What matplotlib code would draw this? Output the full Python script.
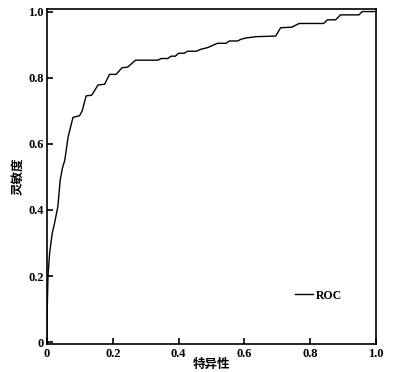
import matplotlib.pyplot as plt

# ROC curve points (1 - specificity, sensitivity)
fpr = [0.0, 0.0, 0.003, 0.008, 0.016, 0.023, 0.033, 0.040, 0.047, 0.054,
       0.064, 0.079, 0.099, 0.107, 0.119, 0.136, 0.155, 0.175, 0.190, 0.210,
       0.228, 0.245, 0.269, 0.337, 0.347, 0.367, 0.377, 0.390, 0.400, 0.417,
       0.427, 0.453, 0.468, 0.488, 0.518, 0.544, 0.554, 0.579, 0.589, 0.604,
       0.635, 0.695, 0.710, 0.745, 0.766, 0.841, 0.852, 0.877, 0.892, 0.948,
       0.958, 1.0]
tpr = [0.0, 0.07, 0.20, 0.27, 0.33, 0.36, 0.41, 0.49, 0.527, 0.55,
       0.62, 0.68, 0.685, 0.70, 0.745, 0.747, 0.778, 0.78, 0.81, 0.81,
       0.83, 0.832, 0.853, 0.853, 0.858, 0.858, 0.865, 0.865, 0.874, 0.874,
       0.88, 0.88, 0.886, 0.891, 0.904, 0.904, 0.911, 0.911, 0.916, 0.92,
       0.924, 0.926, 0.951, 0.953, 0.964, 0.964, 0.975, 0.975, 0.99, 0.99,
       1.0, 1.0]

ticks = [0, 0.2, 0.4, 0.6, 0.8, 1.0]
tick_labels = ["0", "0.2", "0.4", "0.6", "0.8", "1.0"]

plt.rcParams['font.family'] = ['Liberation Serif', 'Noto Sans CJK SC']
plt.rcParams['font.weight'] = 'bold'

fig = plt.figure(figsize=(3.95, 3.72), dpi=100)
ax = fig.add_axes([0.119, 0.075, 0.833, 0.901])

ax.plot(fpr, tpr, color="black", linewidth=1.0, label="ROC")

ax.set_xlim(0, 1.0)
ax.set_ylim(-0.006, 1.008)
ax.set_xticks(ticks)
ax.set_xticklabels(tick_labels)
ax.set_yticks(ticks)
ax.set_yticklabels(tick_labels)
ax.tick_params(direction="in", length=4.5, width=1.2, labelsize=9, pad=2.5)
for s in ax.spines.values():
    s.set_linewidth(1.2)

ax.set_xlabel("特异性", family=['Noto Sans CJK SC'], fontsize=9, fontweight="bold", labelpad=-1.5)
ax.set_ylabel("灵敏度", family=['Noto Sans CJK SC'], fontsize=9, fontweight="bold", labelpad=3)

ax.legend(loc="center left", bbox_to_anchor=(0.72, 0.145), frameon=False,
          handlelength=1.6, handletextpad=0.2,
          prop={'weight': 'bold', 'size': 8.5})

fig.savefig("out.png", dpi=100)
